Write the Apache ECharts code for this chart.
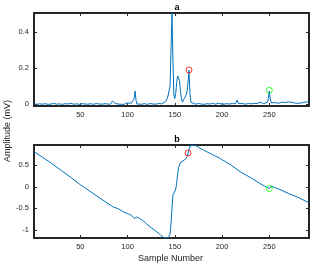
<!DOCTYPE html>
<html><head><meta charset="utf-8">
<script src="https://cdn.jsdelivr.net/npm/echarts@6/dist/echarts.min.js"></script>
<style>html,body{margin:0;padding:0;background:#fff}#c{width:313px;height:268px}</style>
</head><body><div id="c"></div>
<script>
const xTicks = [50, 100, 150, 200, 250];
const topYTicks = [0, 0.2, 0.4];
const botYTicks = [-1, -0.5, 0, 0.5];
const topSignal = [
[1,0.002],[4,-0.002],[7,0.001],[10,-0.001],[13,0.002],[16,-0.002],[19,0.0],[22,0.003],[25,-0.001],[28,0.001],[31,-0.002],[34,0.002],[37,0.0],[40,0.004],[43,-0.001],[46,0.001],[49,-0.002],[52,0.002],[55,0.0],[58,-0.001],[61,0.002],[64,-0.002],[67,0.003],[70,0.0],[73,-0.001],[76,0.002],[79,0.0],[82,-0.001],[83,0.004],[84,0.016],[85,0.008],[87,0.003],[89,0.0],[91,-0.001],[93,0.002],[96,-0.002],[98,0.001],[99,0.005],[101,0.006],[104,0.005],[105,0.001],[106,0.0],[107,0.03],[108,0.072],[109,0.02],[110,0.0],[112,0.004],[115,-0.001],[118,0.002],[121,-0.002],[124,0.003],[127,0.0],[130,-0.001],[133,0.003],[136,0.001],[138,0.006],[140,0.012],[142,0.03],[143,0.05],[145,0.1],[146,0.3],[147,0.505],[148,0.25],[149,0.05],[150,0.03],[151,0.06],[152,0.12],[153,0.155],[154,0.16],[155,0.13],[156,0.07],[157,0.03],[158,0.01],[160,0.03],[162,0.05],[163,0.07],[164,0.12],[165,0.187],[166,0.06],[167,0.01],[169,0.002],[172,-0.001],[175,0.003],[178,0.0],[181,-0.002],[184,0.002],[187,0.0],[190,0.003],[193,-0.001],[196,0.004],[199,0.001],[202,-0.001],[205,0.002],[208,0.0],[211,0.003],[214,0.001],[216,0.022],[217,0.004],[219,0.0],[222,0.002],[225,-0.001],[228,0.003],[231,0.001],[234,0.004],[237,0.002],[240,0.01],[242,0.008],[244,0.002],[246,0.004],[248,0.01],[249,0.03],[250,0.072],[251,0.03],[252,0.006],[254,0.002],[256,0.008],[258,0.012],[260,0.004],[262,0.006],[263,0.01],[265,0.004],[267,0.008],[270,0.012],[272,0.005],[275,0.008],[278,0.004],[280,0.011],[283,0.005],[286,0.008],[288,0.004],[290,0.012],[291,0.02],[292,0.012]
];
const botSignal = [
[1,0.82],[10,0.69],[20,0.54],[30,0.38],[40,0.22],[50,0.05],[60,-0.1],[70,-0.25],[80,-0.4],[85,-0.47],[88,-0.49],[92,-0.53],[96,-0.59],[100,-0.62],[104,-0.66],[107,-0.73],[108,-0.76],[110,-0.70],[112,-0.74],[116,-0.78],[120,-0.86],[125,-0.95],[130,-1.03],[135,-1.12],[138,-1.18],[140,-1.19],[143,-1.19],[145,-1.1],[146,-0.85],[147,-0.5],[148,-0.2],[149,-0.18],[150,-0.16],[151,-0.05],[152,0.1],[153,0.3],[154,0.45],[156,0.57],[158,0.6],[160,0.62],[162,0.66],[163,0.7],[164,0.79],[165,0.85],[166,0.95],[167,0.975],[171,0.975],[180,0.86],[190,0.75],[198,0.66],[210,0.5],[220,0.34],[230,0.22],[240,0.08],[245,0.02],[250,-0.04],[252,0.02],[255,-0.01],[260,-0.05],[270,-0.15],[280,-0.24],[292,-0.37]
];
const redMarkTop = [[165, 0.189]];
const greenMarkTop = [[250, 0.076]];
const redMarkBot = [[164, 0.79]];
const greenMarkBot = [[250, -0.04]];

const font = 'Liberation Sans, Arial, sans-serif';
const ink = '#262626';
function xAx(grid, pos, labels) {
  return {type:'value', gridIndex:grid, position:pos, min:1, max:292,
    axisLine:{show:true, onZero:false, lineStyle:{color:ink, width:2}},
    axisTick:{show:true, inside:true, length:3, customValues:xTicks, lineStyle:{color:ink}},
    axisLabel:{show:labels, customValues:xTicks, color:ink, fontSize:7.5, fontFamily:font, margin:5},
    splitLine:{show:false}};
}
function yAx(grid, pos, labels, min, max, ticks) {
  return {type:'value', gridIndex:grid, position:pos, min:min, max:max,
    axisLine:{show:true, onZero:false, lineStyle:{color:ink, width:2}},
    axisTick:{show:true, inside:true, length:3, customValues:ticks, lineStyle:{color:ink}},
    axisLabel:{show:labels, customValues:ticks, color:ink, fontSize:7.5, fontFamily:font, margin:5},
    splitLine:{show:false}};
}
function mark(data, color) {
  return {type:'scatter', xAxisIndex: data.ax, yAxisIndex: data.ax, data: data.pts, symbol:'circle', symbolSize:6,
    itemStyle:{color:'rgba(0,0,0,0)', borderColor:color, borderWidth:1}, z:5};
}
const chart = echarts.init(document.getElementById('c'), null, {renderer:'canvas'});
const blue = '#0072BD';
chart.setOption({
  animation:false,
  grid:[{left:34, right:4, top:13, height:93}, {left:34, right:4, top:145, height:93}],
  xAxis:[xAx(0,'bottom',true), xAx(0,'top',false), xAx(1,'bottom',true), xAx(1,'top',false)],
  yAxis:[yAx(0,'left',true,-0.011,0.505,topYTicks), yAx(0,'right',false,-0.011,0.505,topYTicks),
         yAx(1,'left',true,-1.19,0.975,botYTicks), yAx(1,'right',false,-1.19,0.975,botYTicks)],
  title:[
    {text:'a', left:172, top:-2, textAlign:'center', textStyle:{fontSize:9, fontWeight:'bold', color:'#000', fontFamily:font}},
    {text:'b', left:172, top:130, textAlign:'center', textStyle:{fontSize:9, fontWeight:'bold', color:'#000', fontFamily:font}}
  ],
  graphic:[
    {type:'text', left:138, top:254, style:{text:'Sample Number', fontSize:9, fontFamily:font, fill:ink}},
    {type:'text', x:3, y:162, rotation:Math.PI/2, style:{text:'Amplitude (mV)', fontSize:9, fontFamily:font, fill:ink}}
  ],
  series:[
    {type:'line', xAxisIndex:0, yAxisIndex:0, data:topSignal, showSymbol:false, lineStyle:{color:blue, width:1}, clip:true},
    {type:'line', xAxisIndex:2, yAxisIndex:2, data:botSignal, showSymbol:false, lineStyle:{color:blue, width:1}, clip:true},
    mark({ax:0, pts:redMarkTop}, '#ff0000'),
    mark({ax:0, pts:greenMarkTop}, '#00ff00'),
    mark({ax:2, pts:redMarkBot}, '#ff0000'),
    mark({ax:2, pts:greenMarkBot}, '#00ff00')
  ]
});
</script></body></html>
